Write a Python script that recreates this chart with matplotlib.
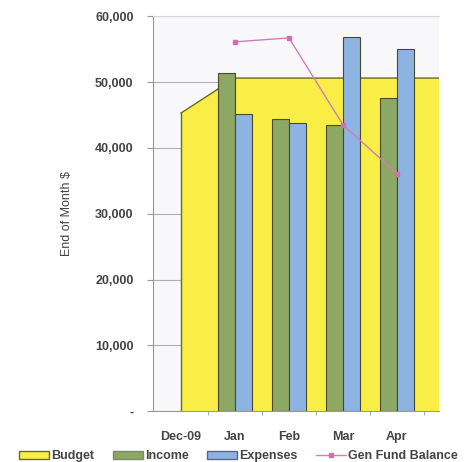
import matplotlib
matplotlib.use("Agg")
import matplotlib.pyplot as plt
import numpy as np
from matplotlib.ticker import FuncFormatter, FixedLocator
from matplotlib.patches import Patch
from matplotlib.lines import Line2D

categories = ["Dec-09", "Jan", "Feb", "Mar", "Apr", "May"]
budget = [45300, 50600, 50600, 50600, 50600, 50600]
income = [np.nan, 51400, 44400, 43500, 47500, np.nan]
expenses = [np.nan, 45200, 43800, 56900, 55000, np.nan]
gen_fund = [np.nan, 56100, 56700, 43500, 36100, np.nan]

plt.rcParams['font.family'] = ['Liberation Sans', 'DejaVu Sans']

fig = plt.figure(figsize=(4.68, 4.62), dpi=100)
ax = fig.add_axes([0.327, 0.110, 0.611, 0.855])
ax.set_facecolor("#f8f8fa")
fig.patch.set_facecolor("white")

x = np.arange(len(categories))
edge = "#4a4a2a"
yellow = "#f8ee45"
olive = "#6a6a2a"
green = "#8ca862"
blue = "#8db3e2"
pink = "#d070b0"

ax.fill_between(x, 0, budget, facecolor=yellow, edgecolor="none", zorder=2)
ax.plot(x, budget, color=olive, lw=1.0, zorder=2)
ax.plot([x[0], x[0]], [0, budget[0]], color=olive, lw=1.0, zorder=2)

w = 0.31
ax.bar(x - w/2, income, width=w, color=green, edgecolor=edge, linewidth=0.8, zorder=3)
ax.bar(x + w/2, expenses, width=w, color=blue, edgecolor=edge, linewidth=0.8, zorder=3)
ax.plot(x, gen_fund, color="#d080b8", lw=1.0, marker="s", markersize=3.5,
        markerfacecolor=pink, markeredgecolor=pink, zorder=4)

ax.set_xlim(-0.52, 4.78)
ax.set_ylim(0, 60000)
ax.set_yticks(np.arange(0, 60001, 10000))
ax.yaxis.set_major_formatter(FuncFormatter(lambda v, p: "-" if v == 0 else f"{int(v):,}"))
ax.yaxis.grid(True, color="#b0b0b0", lw=0.8, zorder=0)
ax.set_axisbelow(True)

ax.set_xticks(x[:5])
ax.set_xticklabels(categories[:5])
ax.xaxis.set_minor_locator(FixedLocator(np.arange(0.5, 4.6, 1)))
ax.tick_params(axis="x", which="major", length=0, pad=14)
ax.tick_params(axis="x", which="minor", length=3, color="#999999")
ax.tick_params(axis="y", length=4, color="#999999", pad=10)

for lab in ax.get_xticklabels() + ax.get_yticklabels():
    lab.set_fontsize(9)
    lab.set_fontweight("bold")
    lab.set_color("#444444")

ax.set_ylabel("End of Month $", fontsize=9, color="#444444", labelpad=16)

for s in ["left", "bottom"]:
    ax.spines[s].set_color("#999999")
ax.spines["top"].set_color("#d8d8d8")
ax.spines["right"].set_visible(False)

handles = [
    Patch(facecolor=yellow, edgecolor=olive, label="Budget"),
    Patch(facecolor=green, edgecolor="#7a8a6a", label="Income"),
    Patch(facecolor=blue, edgecolor="#5a6a8a", label="Expenses"),
    Line2D([], [], color="#d080b8", lw=1.0, marker="s", markersize=3.5,
           markerfacecolor=pink, markeredgecolor=pink, label="Gen Fund Balance"),
]
leg = fig.legend(handles=handles, loc="lower center", bbox_to_anchor=(0.51, -0.025), ncol=4,
                 frameon=False, handlelength=2.4, handleheight=0.6, handletextpad=0.15,
                 columnspacing=1.5, prop={"weight": "bold", "size": 9})
for t in leg.get_texts():
    t.set_color("#444444")

fig.savefig("out.png", dpi=100)
